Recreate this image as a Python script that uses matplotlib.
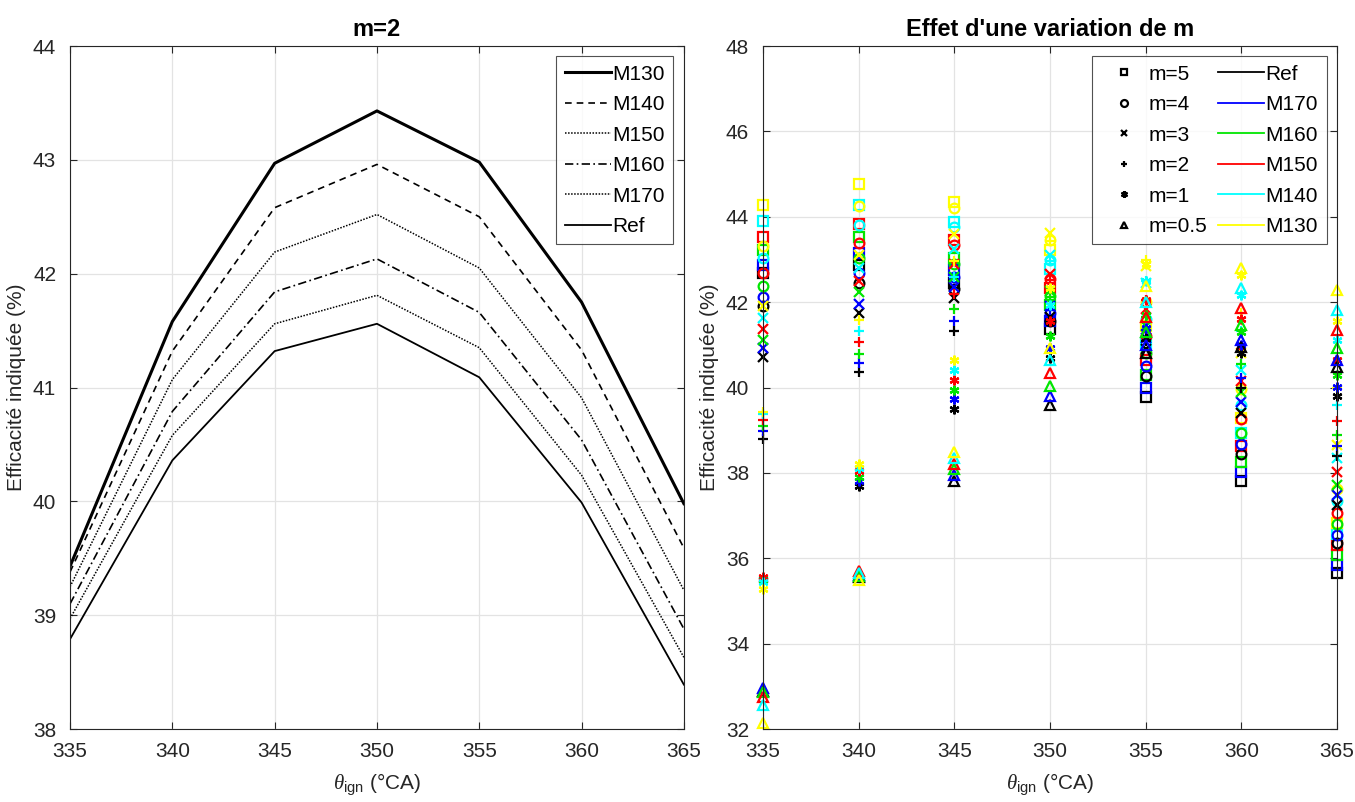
import numpy as np
import matplotlib
matplotlib.use("Agg")
import matplotlib.pyplot as plt
from matplotlib.lines import Line2D

plt.rcParams['font.family'] = ['Liberation Sans', 'DejaVu Sans']
plt.rcParams['mathtext.fontset'] = 'custom'
plt.rcParams['mathtext.rm'] = 'Liberation Sans'
plt.rcParams['mathtext.it'] = 'Liberation Serif:italic'

# angles d'allumage
theta = [335, 340, 345, 350, 355, 360, 365]
modeles = ['Ref', 'M170', 'M160', 'M150', 'M140', 'M130']
couleurs = ['k', '#0000ff', '#00e600', '#ff0000', '#00ffff', '#ffff00']

# rendement indiqué (%) par valeur de m, lignes = modeles
eta_m5 = [[42.68, 42.87, 42.45, 41.37, 39.77, 37.82, 35.65],
          [42.87, 43.15, 42.76, 41.55, 40.00, 38.03, 35.84],
          [43.22, 43.52, 43.04, 41.94, 40.30, 38.26, 36.08],
          [43.52, 43.83, 43.46, 42.33, 40.65, 38.62, 36.31],
          [43.90, 44.28, 43.88, 42.77, 41.04, 38.93, 36.58],
          [44.28, 44.77, 44.35, 43.23, 41.44, 39.28, 36.82]]
eta_m4 = [[41.90, 42.44, 42.30, 41.55, 40.27, 38.45, 36.35],
          [42.13, 42.69, 42.60, 41.74, 40.50, 38.68, 36.55],
          [42.37, 43.03, 42.90, 42.15, 40.82, 38.93, 36.80],
          [42.68, 43.38, 43.34, 42.54, 41.20, 39.27, 37.05],
          [43.03, 43.81, 43.77, 42.99, 41.60, 39.59, 37.35],
          [43.32, 44.26, 44.20, 43.46, 42.00, 39.96, 37.63]]
eta_m3 = [[40.71, 41.74, 42.10, 41.65, 40.90, 39.40, 37.25],
          [40.92, 41.96, 42.35, 41.90, 41.15, 39.65, 37.48],
          [41.12, 42.23, 42.60, 42.25, 41.45, 39.90, 37.72],
          [41.36, 42.50, 42.90, 42.65, 41.85, 40.15, 38.01],
          [41.62, 42.80, 43.25, 43.10, 42.45, 40.41, 38.34],
          [41.90, 43.10, 43.60, 43.63, 42.85, 40.80, 38.66]]
eta_m2 = [[38.79, 40.36, 41.32, 41.56, 41.09, 39.99, 38.39],
          [38.97, 40.58, 41.56, 41.81, 41.35, 40.23, 38.63],
          [39.10, 40.79, 41.84, 42.13, 41.66, 40.54, 38.88],
          [39.25, 41.07, 42.19, 42.52, 42.05, 40.91, 39.22],
          [39.38, 41.32, 42.58, 42.96, 42.50, 41.33, 39.59],
          [39.43, 41.58, 42.97, 43.43, 42.98, 41.75, 39.98]]
eta_m1 = [[35.52, 37.70, 39.50, 40.69, 41.15, 40.80, 39.79],
          [35.50, 37.80, 39.72, 40.92, 41.40, 41.00, 40.02],
          [35.50, 37.90, 39.95, 41.20, 41.70, 41.30, 40.30],
          [35.56, 38.05, 40.18, 41.55, 42.05, 41.60, 40.65],
          [35.45, 38.12, 40.42, 41.94, 42.50, 42.17, 41.12],
          [35.28, 38.22, 40.65, 42.33, 42.90, 42.64, 41.55]]
eta_m05 = [[32.90, 35.55, 37.80, 39.58, 40.80, 40.96, 40.49],
           [32.95, 35.60, 37.95, 39.80, 41.00, 41.12, 40.65],
           [32.87, 35.58, 38.08, 40.04, 41.30, 41.47, 40.92],
           [32.76, 35.70, 38.20, 40.35, 41.65, 41.86, 41.35],
           [32.56, 35.65, 38.35, 40.65, 42.00, 42.33, 41.82],
           [32.13, 35.50, 38.50, 40.92, 42.37, 42.80, 42.29]]

m_labels = ['m=5', 'm=4', 'm=3', 'm=2', 'm=1', 'm=0.5']
m_data = [eta_m5, eta_m4, eta_m3, eta_m2, eta_m1, eta_m05]
m_markers = ['s', 'o', 'x', '+', (6, 2, 0), '^']

fig = plt.figure(figsize=(13.55, 8.02), dpi=100)
ax1 = fig.add_axes([0.0517, 0.091, 0.453, 0.8516])
ax2 = fig.add_axes([0.5631, 0.091, 0.4236, 0.8516])

def style_axes(ax):
    ax.grid(True, color='#e3e3e3', lw=0.9)
    ax.set_axisbelow(True)
    ax.tick_params(direction='in', top=True, right=True, labelsize=15,
                   colors='#262626', length=5)
    ax.tick_params(axis='x', pad=9)
    ax.tick_params(axis='y', pad=10)
    for s in ax.spines.values():
        s.set_color('#262626')
        s.set_linewidth(0.8)
    ax.set_xlim(335, 365)
    ax.set_xticks(theta)
    ax.set_xlabel(r'$\theta_{\mathrm{ign}}$ (°CA)', fontsize=15, color='#262626', labelpad=8)
    ax.set_ylabel('Efficacité indiquée (%)', fontsize=15, color='#262626', labelpad=5)

# --- gauche : m=2
styles_g = {'M130': dict(ls='-', lw=2.2), 'M140': dict(ls=(0, (4, 3)), lw=1.2),
            'M150': dict(ls=(0, (1, 1)), lw=1.1), 'M160': dict(ls=(0, (5, 2, 1, 2)), lw=1.2),
            'M170': dict(ls=(0, (1, 1)), lw=1.1), 'Ref': dict(ls='-', lw=1.3)}
for nom in ['M130', 'M140', 'M150', 'M160', 'M170', 'Ref']:
    i = modeles.index(nom)
    ax1.plot(theta, eta_m2[i], color='k', label=nom, **styles_g[nom])
style_axes(ax1)
ax1.set_ylim(38, 44)
ax1.set_title('m=2', fontsize=17, fontweight='bold', pad=7)
leg1 = ax1.legend(loc='upper right', fontsize=15, fancybox=False, edgecolor='#262626',
                  handlelength=2.2, handletextpad=0.1, borderpad=0.4, labelspacing=0.55,
                  borderaxespad=0.5)
leg1.get_frame().set_linewidth(0.8)

# --- droite : effet de m
for data, mk in zip(m_data, m_markers):
    for i, c in enumerate(couleurs):
        ax2.plot(theta, data[i], ls='none', marker=mk, ms=7, mew=1.6,
                 mfc='none', mec=c, clip_on=False)
style_axes(ax2)
ax2.set_ylim(32, 48)
ax2.set_yticks(np.arange(32, 49, 2))
ax2.set_title("Effet d'une variation de m", fontsize=17, fontweight='bold', pad=7)

handles = [Line2D([], [], ls='none', marker=mk, ms=5, mew=1.6, mfc='none', mec='k')
           for mk in m_markers]
handles += [Line2D([], [], color=c, lw=1.3) for c in couleurs]
leg2 = ax2.legend(handles, m_labels + modeles, ncol=2, loc='upper right', fontsize=15,
                  fancybox=False, edgecolor='#262626', handlelength=2.2,
                  handletextpad=0.1, columnspacing=0.5, borderpad=0.4,
                  labelspacing=0.55, borderaxespad=0.5)
leg2.get_frame().set_linewidth(0.8)

fig.savefig('out.png', dpi=100)
